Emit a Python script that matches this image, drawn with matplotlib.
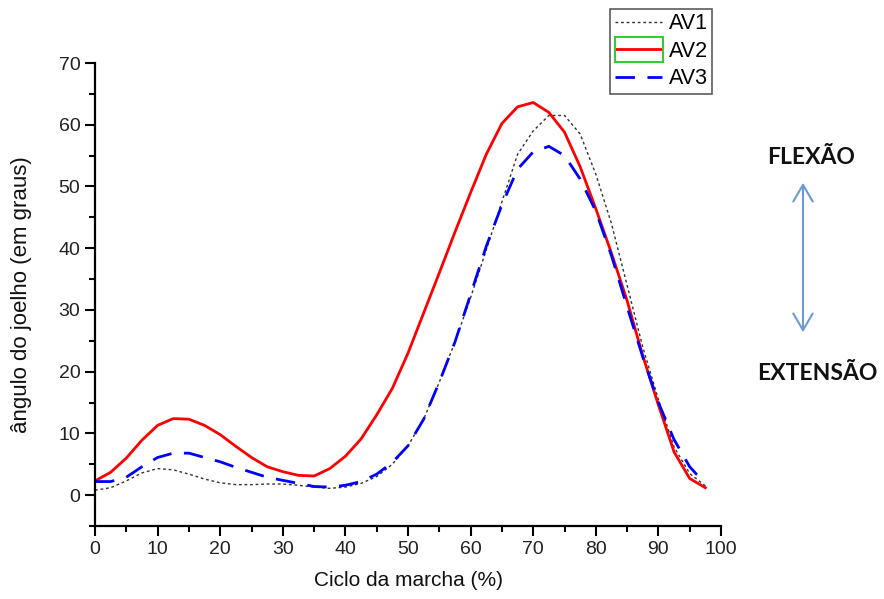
import numpy as np
import matplotlib
matplotlib.use("Agg")
import matplotlib.pyplot as plt
from matplotlib.patches import Rectangle, FancyArrowPatch

# gait cycle (%) and knee angle (degrees) for the three evaluations
ciclo = [0, 2.5, 5, 7.5, 10, 12.5, 15, 17.5, 20, 22.5, 25, 27.5, 30, 32.5, 35,
         37.5, 40, 42.5, 45, 47.5, 50, 52.5, 55, 57.5, 60, 62.5, 65, 67.5, 70,
         72.5, 75, 77.5, 80, 82.5, 85, 87.5, 90, 92.5, 95, 97.5]
av1 = [0.8, 1.2, 2.3, 3.6, 4.3, 4.1, 3.4, 2.6, 2.0, 1.7, 1.7, 1.8, 1.8, 1.6, 1.3,
       1.1, 1.3, 1.9, 3.0, 5.0, 8.0, 12.3, 18.3, 24.8, 32.0, 39.7, 47.5, 55.2, 59.0,
       61.5, 61.5, 58.5, 52.0, 44.0, 34.0, 24.0, 15.5, 7.8, 3.5, 1.5]
av2 = [2.3, 3.7, 6.0, 8.9, 11.3, 12.4, 12.3, 11.3, 9.8, 7.9, 6.1, 4.6, 3.8, 3.2, 3.1,
       4.3, 6.3, 9.1, 13.0, 17.3, 23.0, 29.5, 36.0, 42.6, 49.0, 55.2, 60.2, 62.9, 63.6,
       62.0, 58.8, 53.2, 46.4, 39.2, 31.5, 22.6, 14.6, 7.0, 2.7, 1.2]
av3 = [2.2, 2.2, 2.9, 4.6, 6.1, 6.8, 6.8, 6.1, 5.4, 4.5, 3.7, 2.9, 2.4, 1.9, 1.4,
       1.3, 1.6, 2.2, 3.4, 5.3, 8.0, 12.3, 18.3, 24.8, 32.5, 40.3, 47.0, 52.8, 55.6,
       56.5, 55.0, 51.2, 46.0, 38.8, 30.5, 22.4, 15.0, 9.0, 4.6, 1.8]

plt.rcParams['font.family'] = ['Liberation Sans', 'DejaVu Sans']

W, H = 884, 599
fig = plt.figure(figsize=(W / 100, H / 100), dpi=100)
ax = fig.add_axes([95 / W, 1 - 526 / H, (721 - 95) / W, (526 - 63) / H])

ax.plot(ciclo, av1, color='#333333', lw=1.0, linestyle=(0, (2, 2)), label='AV1')
ax.plot(ciclo, av2, color='red', lw=2.0, label='AV2')
ax.plot(ciclo, av3, color='blue', lw=2.0, linestyle=(0, (7, 4.5)), label='AV3')

ax.set_xlim(0, 100)
ax.set_ylim(-5, 70)
ax.set_xticks(np.arange(0, 101, 10))
ax.set_xticks(np.arange(5, 100, 10), minor=True)
ax.set_yticks(np.arange(0, 71, 10))
ax.set_yticks(np.arange(-5, 70, 10), minor=True)

for side in ['top', 'right']:
    ax.spines[side].set_visible(False)
for side in ['left', 'bottom']:
    ax.spines[side].set_linewidth(1.6)
ax.tick_params(which='major', direction='out', length=7, width=1.5,
               labelsize=14, colors='black', labelcolor='#222222')
ax.tick_params(which='minor', direction='out', length=4, width=1.5)

ax.set_xlabel('Ciclo da marcha (%)', fontsize=15, color='#111111', labelpad=10)
ax.set_ylabel('ângulo do joelho (em graus)', fontsize=16, color='#111111', labelpad=19)

leg = fig.legend(loc='upper right', bbox_to_anchor=(712 / W, 1 - 9 / H),
                 fontsize=15.5, frameon=True, fancybox=False, handlelength=2.2,
                 handletextpad=0.3, labelspacing=0.3, borderpad=0.2,
                 borderaxespad=0)
leg.get_frame().set_edgecolor('#333333')
leg.get_frame().set_linewidth(1.2)

# green selection box around AV2 handle (as in the original)
fig.add_artist(Rectangle((615 / W, 1 - 62 / H), 48 / W, 25 / H,
                         transform=fig.transFigure, fill=False,
                         edgecolor='#33cc33', lw=1.5, zorder=10))

# flexion / extension annotation
fig.add_artist(FancyArrowPatch((803 / W, 1 - 335 / H), (803 / W, 1 - 180 / H),
                               transform=fig.transFigure,
                               arrowstyle='<->,head_length=0.6,head_width=0.35',
                               mutation_scale=20, color='#6a9bd6', lw=1.5))
fig.text(811 / W, 1 - 157 / H, 'FLEXÃO', ha='center', va='center',
         fontsize=16.5, fontweight='bold', family=['Lato', 'DejaVu Sans'], color='#111111')
fig.text(817 / W, 1 - 374 / H, 'EXTENSÃO', ha='center', va='center',
         fontsize=16.5, fontweight='bold', family=['Lato', 'DejaVu Sans'], color='#111111')

fig.savefig('out.png', dpi=100)
